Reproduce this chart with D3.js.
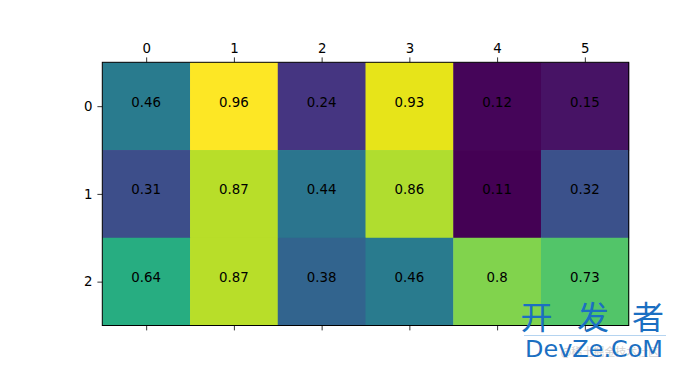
<!DOCTYPE html>
<html>
<head>
<meta charset="utf-8">
<script src="https://cdn.jsdelivr.net/npm/d3@7"></script>
<style>
  body { margin: 0; background: #fff; }
  svg { display: block; }
</style>
</head>
<body>
<svg id="chart" width="679" height="370"></svg>
<script>
// heatmap values, row by row
const rowLabels = ["0", "1", "2"];
const colLabels = ["0", "1", "2", "3", "4", "5"];
const row0 = [0.46, 0.96, 0.24, 0.93, 0.12, 0.15];
const row1 = [0.31, 0.87, 0.44, 0.86, 0.11, 0.32];
const row2 = [0.64, 0.87, 0.38, 0.46, 0.8, 0.73];
const rows = [row0, row1, row2];

const box = { left: 102.3, top: 62.3, right: 628.7, bottom: 325.5 };

const svg = d3.select('#chart');

const x = d3.scaleBand()
    .domain(colLabels)
    .range([box.left, box.right]);
const y = d3.scaleBand()
    .domain(rowLabels)
    .range([box.top, box.bottom]);

let flat = rows.flat();
const color = d3.scaleSequential(d3.interpolateViridis)
    .domain([d3.min(flat), d3.max(flat)]);

// cells
let cells = [];
rows.forEach((r, i) => r.forEach((v, j) => cells.push({ row: rowLabels[i], col: colLabels[j], v: v })));

svg.append('g')
    .selectAll('rect')
    .data(cells)
    .enter()
    .append('rect')
    .attr('x', d => x(d.col))
    .attr('y', d => y(d.row))
    .attr('width', x.bandwidth() + 0.5)
    .attr('height', y.bandwidth() + 0.5)
    .attr('fill', d => color(d.v));

// value labels (baseline at cell centre, like matplotlib default)
svg.append('g')
    .selectAll('text')
    .data(cells)
    .enter()
    .append('text')
    .attr('x', d => x(d.col) + x.bandwidth() / 2)
    .attr('y', d => y(d.row) + y.bandwidth() / 2 + 0.5)
    .attr('text-anchor', 'middle')
    .style('font-family', 'DejaVu Sans')
    .style('font-size', '13.33px')
    .style('fill', '#000')
    .text(d => d.v);

// frame
svg.append('rect')
    .attr('x', box.left)
    .attr('y', box.top)
    .attr('width', box.right - box.left)
    .attr('height', box.bottom - box.top)
    .style('fill', 'none')
    .style('stroke', '#000')
    .style('stroke-width', 1);

// axes
function styleAxis(g) {
    g.select('.domain').remove();
    g.selectAll('line').style('stroke', '#000').style('stroke-width', 0.8);
    g.selectAll('text')
        .style('font-family', 'DejaVu Sans')
        .style('font-size', '13.33px')
        .style('fill', '#000');
}

let xPos = v => x(v) + x.bandwidth() / 2;
let yPos = v => y(v) + y.bandwidth() / 2;

svg.append('g')
    .attr('transform', 'translate(0,' + box.top + ')')
    .call(d3.axisTop(d3.scaleOrdinal().domain(colLabels).range(colLabels.map(xPos)))
        .tickSizeOuter(0).tickSize(4.9).tickPadding(4.9))
    .call(styleAxis);

svg.append('g')
    .attr('transform', 'translate(0,' + box.bottom + ')')
    .call(d3.axisBottom(d3.scaleOrdinal().domain(colLabels).range(colLabels.map(xPos)))
        .tickSizeOuter(0).tickSize(4.9).tickFormat(''))
    .call(styleAxis);

svg.append('g')
    .attr('transform', 'translate(' + box.left + ',0)')
    .call(d3.axisLeft(d3.scaleOrdinal().domain(rowLabels).range(rowLabels.map(yPos)))
        .tickSizeOuter(0).tickSize(4.9).tickPadding(4.9))
    .call(styleAxis);

// watermark
let wm = svg.append('g');
let wmChars = ['开', '发', '者'];
let wmX = [536.5, 593, 648];
wm.selectAll('text.cjk')
    .data(wmChars)
    .enter()
    .append('text')
    .attr('class', 'cjk')
    .attr('x', (d, i) => wmX[i]).attr('y', 329)
    .attr('text-anchor', 'middle')
    .style('font-family', 'Noto Sans CJK SC')
    .style('font-size', '32px')
    .style('fill', '#1b6fc2')
    .text(d => d);
wm.append('line')
    .attr('x1', 524).attr('x2', 666)
    .attr('y1', 335.5).attr('y2', 335.5)
    .style('stroke', '#b5d4f0')
    .style('stroke-width', 1);
wm.append('text')
    .attr('x', 610).attr('y', 356)
    .attr('text-anchor', 'middle')
    .style('font-family', 'Noto Sans CJK SC')
    .style('font-size', '11px')
    .style('fill', '#d2d2d2')
    .text('@稀土掘金技术社区');
wm.append('text')
    .attr('x', 525).attr('y', 357)
    .attr('textLength', 138)
    .attr('lengthAdjust', 'spacingAndGlyphs')
    .style('font-family', 'DejaVu Sans')
    .style('font-size', '23.5px')
    .style('fill', '#1b6fc2')
    .text('DevZe.CoM');
</script>
</body>
</html>
